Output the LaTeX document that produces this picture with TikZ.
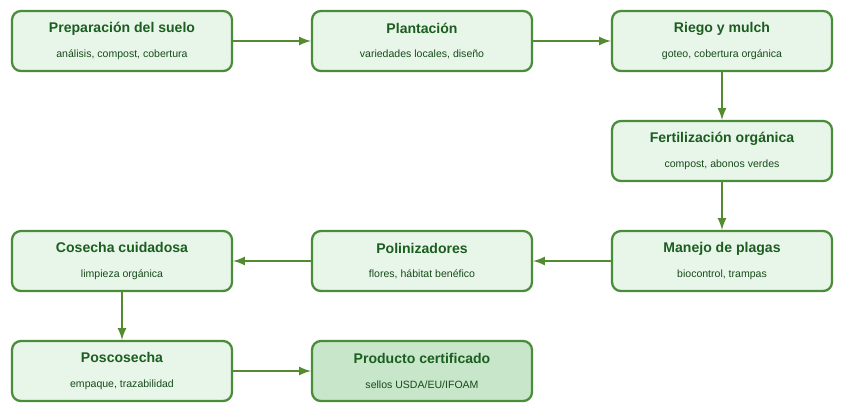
\documentclass[tikz,border=0pt]{standalone}
\usepackage{fontspec}
\setmainfont{Liberation Sans}
\usetikzlibrary{positioning}
\definecolor{boxfill}{HTML}{E8F5E9}
\definecolor{endfill}{HTML}{C8E6C9}
\definecolor{boxline}{HTML}{4A8C3A}
\definecolor{titlecol}{HTML}{1B5E20}
\definecolor{arrowcol}{HTML}{558B2F}
\tikzset{
  stage/.style={draw=boxline, line width=1.3pt, rounded corners=5pt, fill=boxfill,
    minimum width=4.4cm, minimum height=1.2cm, align=center, inner sep=0pt},
  flow/.style={->, >=latex, draw=arrowcol, line width=1.3pt}
}
\newcommand{\steptext}[2]{{\fontsize{8}{10}\selectfont\bfseries\color{titlecol}#1}\\[2pt]{\fontsize{6}{8}\selectfont\color{titlecol!80!black}#2}}
\begin{document}
\begin{tikzpicture}[x=0.02cm, y=-0.02cm]
        \useasboundingbox (0,0) rectangle (841,414);
        % First row
        \node[stage] (suelo) at (122, 41) {\steptext{Preparación del suelo}{análisis, compost, cobertura}};
        \node[stage] (plant) at (422, 41) {\steptext{Plantación}{variedades locales, diseño}};
        \node[stage] (riego) at (722, 41) {\steptext{Riego y mulch}{goteo, cobertura orgánica}};
        % Right column
        \node[stage] (fert) at (722, 151) {\steptext{Fertilización orgánica}{compost, abonos verdes}};
        \node[stage] (plagas) at (722, 261) {\steptext{Manejo de plagas}{biocontrol, trampas}};
        % Third row
        \node[stage] (polin) at (422, 261) {\steptext{Polinizadores}{flores, hábitat benéfico}};
        \node[stage] (cosecha) at (122, 261) {\steptext{Cosecha cuidadosa}{limpieza orgánica}};
        % Last row
        \node[stage] (poscos) at (122, 371) {\steptext{Poscosecha}{empaque, trazabilidad}};
        \node[stage, fill=endfill] (prod) at (422, 371) {\steptext{Producto certificado}{sellos USDA/EU/IFOAM}};

        % Flow arrows
        \draw[flow] (suelo) -- (plant);
        \draw[flow] (plant) -- (riego);
        \draw[flow] (riego) -- (fert);
        \draw[flow] (fert) -- (plagas);
        \draw[flow] (plagas) -- (polin);
        \draw[flow] (polin) -- (cosecha);
        \draw[flow] (cosecha) -- (poscos);
        \draw[flow] (poscos) -- (prod);
\end{tikzpicture}
\end{document}
